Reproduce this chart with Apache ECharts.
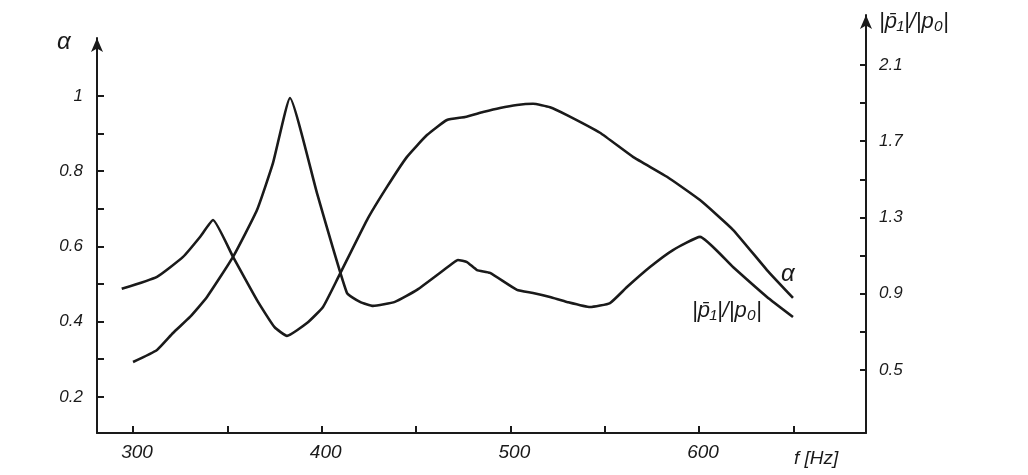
<!DOCTYPE html>
<html>
<head>
<meta charset="utf-8">
<script src="https://cdn.jsdelivr.net/npm/echarts@6/dist/echarts.min.js"></script>
<style>html,body{margin:0;padding:0;background:#fff;}#c{width:1028px;height:475px;}</style>
</head>
<body>
<div id="c"></div>
<script>
// ---- data ----
const freqTicks = [300, 350, 400, 450, 500, 550, 600, 650];
const freqLabels = [300, 400, 500, 600];
const alphaTicks = [0.2, 0.3, 0.4, 0.5, 0.6, 0.7, 0.8, 0.9, 1.0];
const alphaLabels = [0.2, 0.4, 0.6, 0.8, 1.0];
const ratioTicks = [0.5, 0.7, 0.9, 1.1, 1.3, 1.5, 1.7, 1.9, 2.1];
const ratioLabels = [0.5, 0.9, 1.3, 1.7, 2.1];

// alpha curve (left axis)
const alphaFreq = [294, 312.7, 326.5, 335.5, 342.4, 353, 365.7, 375, 381.6, 392.2, 400.7, 408.6, 424, 434.6, 445.2, 455.8, 466.4, 476, 485.5, 494.5, 503.5, 512, 521, 530, 547.5, 565, 583, 600.5, 618, 636, 649.8];
const alphaVal  = [0.487, 0.519, 0.572, 0.625, 0.670, 0.572, 0.457, 0.385, 0.362, 0.396, 0.439, 0.516, 0.670, 0.758, 0.838, 0.896, 0.936, 0.944, 0.957, 0.968, 0.976, 0.979, 0.970, 0.949, 0.902, 0.838, 0.785, 0.723, 0.644, 0.537, 0.463];

// |p1|/|p0| curve (right axis)
const ratioFreq = [300, 312.7, 321.2, 330.2, 339.2, 353, 365.7, 374.2, 383.2, 397.5, 413.4, 420.3, 427.2, 438.8, 450.5, 469.6, 472.2, 477, 482.3, 489.2, 503.5, 512, 521, 530, 542.2, 552.8, 561.8, 574, 586.2, 600.5, 618, 636, 649.8];
const ratioVal  = [0.542, 0.605, 0.694, 0.778, 0.883, 1.093, 1.339, 1.586, 1.927, 1.428, 0.904, 0.857, 0.836, 0.857, 0.920, 1.061, 1.077, 1.066, 1.024, 1.009, 0.920, 0.904, 0.883, 0.857, 0.830, 0.851, 0.935, 1.040, 1.129, 1.198, 1.040, 0.883, 0.778];

const INK = '#1a1a1a';
const FONT = '"Liberation Sans", "DejaVu Sans", sans-serif';
const fmt = v => String(Math.round(v * 10) / 10);

const chart = echarts.init(document.getElementById('c'), null, {renderer: 'canvas'});

const axisLineStyle = {color: INK, width: 2};

chart.setOption({
  backgroundColor: '#fff',
  animation: false,
  grid: [
    {left: 97, right: 162, top: 38, bottom: 42},
    {left: 97, right: 162, top: 15, bottom: 42}
  ],
  xAxis: [
    {
      gridIndex: 0, type: 'value', min: 280.9, max: 688.5,
      splitLine: {show: false},
      axisLine: {show: true, lineStyle: axisLineStyle},
      axisTick: {show: true, inside: true, length: 7, lineStyle: {color: INK, width: 2}, customValues: freqTicks},
      axisLabel: {
        customValues: freqLabels, color: INK, fontSize: 19, fontStyle: 'italic', fontFamily: FONT,
        margin: 10, padding: [0, 0, 0, 8], formatter: v => String(v)
      }
    },
    {
      gridIndex: 1, type: 'value', min: 280.9, max: 688.5, show: false
    }
  ],
  yAxis: [
    {
      gridIndex: 0, type: 'value', position: 'left', min: 0.1037, max: 1.154,
      splitLine: {show: false},
      axisLine: {show: true, onZero: false, lineStyle: axisLineStyle, symbol: ['none', 'arrow'], symbolSize: [9, 14]},
      axisTick: {show: true, inside: true, length: 7, lineStyle: {color: INK, width: 2}, customValues: alphaTicks},
      axisLabel: {
        customValues: alphaLabels, color: INK, fontSize: 17, fontStyle: 'italic', fontFamily: FONT,
        margin: 14, formatter: fmt
      }
    },
    {
      gridIndex: 1, type: 'value', position: 'right', min: 0.1693, max: 2.362,
      splitLine: {show: false},
      axisLine: {show: true, onZero: false, lineStyle: axisLineStyle, symbol: ['none', 'arrow'], symbolSize: [9, 14]},
      axisTick: {show: true, inside: true, length: 6, lineStyle: {color: INK, width: 2}, customValues: ratioTicks},
      axisLabel: {
        customValues: ratioLabels, color: INK, fontSize: 17, fontStyle: 'italic', fontFamily: FONT,
        margin: 13, formatter: fmt
      }
    }
  ],
  series: [
    {
      name: 'α', type: 'line', xAxisIndex: 0, yAxisIndex: 0,
      data: alphaFreq.map((f, i) => [f, alphaVal[i]]),
      showSymbol: false, smooth: 0.14,
      lineStyle: {color: INK, width: 2.6}
    },
    {
      name: '|p̄₁|/|p₀|', type: 'line', xAxisIndex: 1, yAxisIndex: 1,
      data: ratioFreq.map((f, i) => [f, ratioVal[i]]),
      showSymbol: false, smooth: 0.14,
      lineStyle: {color: INK, width: 2.6}
    }
  ],
  graphic: [
    {type: 'text', left: 57, top: 30, style: {text: 'α', fill: INK, font: 'italic 24px ' + FONT}},
    {type: 'text', left: 879, top: 11, style: {text: '|p̄₁|/|p₀|', fill: INK, font: 'italic 22px ' + FONT}},
    {type: 'text', left: 781, top: 262, style: {text: 'α', fill: INK, font: 'italic 24px ' + FONT}},
    {type: 'text', left: 692, top: 300, style: {text: '|p̄₁|/|p₀|', fill: INK, font: 'italic 22px ' + FONT}},
    {type: 'text', left: 794, top: 449, style: {text: 'f [Hz]', fill: INK, font: 'italic 19px ' + FONT}}
  ]
});
</script>
</body>
</html>
